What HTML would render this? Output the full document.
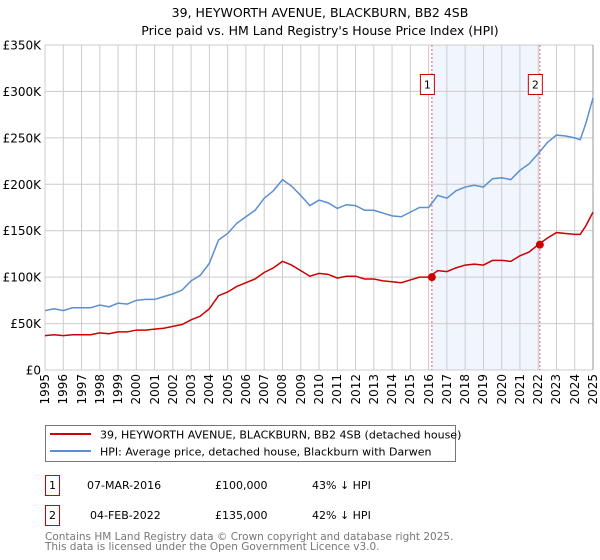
<!DOCTYPE html>
<html><head><meta charset="utf-8"><style>
body{margin:0;background:#fff;font-family:"DejaVu Sans","Liberation Sans",sans-serif;}
svg text{font-family:"DejaVu Sans","Liberation Sans",sans-serif;}
#wrap{position:relative;width:600px;height:560px;}
#c{position:absolute;left:0;top:0;}
.xl{position:absolute;top:374px;width:14px;line-height:14px;font-size:12px;writing-mode:vertical-rl;transform:rotate(180deg);white-space:nowrap;color:#000;}
</style></head><body>
<div id="wrap">
<svg id="c" width="600" height="560" xmlns="http://www.w3.org/2000/svg">
<text x="320" y="17" text-anchor="middle" font-size="12.5">39, HEYWORTH AVENUE, BLACKBURN, BB2 4SB</text>
<text x="320" y="35" text-anchor="middle" font-size="12.5">Price paid vs. HM Land Registry's House Price Index (HPI)</text>
<g id="plot"></g>
<rect x="45.5" y="425.5" width="410" height="36" fill="#fff" stroke="#777"/>
<line x1="50" y1="434" x2="91" y2="434" stroke="#cc0000" stroke-width="2"/>
<text x="100" y="438.5" font-size="11">39, HEYWORTH AVENUE, BLACKBURN, BB2 4SB (detached house)</text>
<line x1="50" y1="451" x2="91" y2="451" stroke="#5b8fd0" stroke-width="2"/>
<text x="100" y="455.5" font-size="11">HPI: Average price, detached house, Blackburn with Darwen</text>
<g font-size="11">
<rect x="45.5" y="475.5" width="14" height="20" fill="none" stroke="#cc0000"/>
<text x="52.5" y="489" text-anchor="middle">1</text>
<text x="87" y="489">07-MAR-2016</text>
<text x="215" y="489">£100,000</text>
<text x="312" y="489">43% ↓ HPI</text>
<rect x="45.5" y="505.5" width="14" height="20" fill="none" stroke="#cc0000"/>
<text x="52.5" y="519" text-anchor="middle">2</text>
<text x="90" y="519">04-FEB-2022</text>
<text x="215" y="519">£135,000</text>
<text x="312" y="519">42% ↓ HPI</text>
</g>
<text x="45" y="540" font-size="10.5" fill="#777">Contains HM Land Registry data © Crown copyright and database right 2025.</text>
<text x="45" y="550" font-size="10.5" fill="#777">This data is licensed under the Open Government Licence v3.0.</text>
</svg>
</div>
<script>
const hpiDates=[1995,1995.5,1996,1996.5,1997,1997.5,1998,1998.5,1999,1999.5,2000,2000.5,2001,2001.5,2002,2002.5,2003,2003.5,2004,2004.5,2005,2005.5,2006,2006.5,2007,2007.5,2008,2008.5,2009,2009.5,2010,2010.5,2011,2011.5,2012,2012.5,2013,2013.5,2014,2014.5,2015,2015.5,2016,2016.5,2017,2017.5,2018,2018.5,2019,2019.5,2020,2020.5,2021,2021.5,2022,2022.5,2023,2023.5,2024,2024.3,2024.6,2025];
const hpiValues=[64,66,64,67,67,67,70,68,72,71,75,76,76,79,82,86,96,102,115,140,147,158,165,172,185,193,205,198,188,177,183,180,174,178,177,172,172,169,166,165,170,175,175,188,185,193,197,199,197,206,207,205,215,222,233,245,253,252,250,248,265,293];
const priceValues=[37,38,37,38,38,38,40,39,41,41,43,43,44,45,47,49,54,58,66,80,84,90,94,98,105,110,117,113,107,101,104,103,99,101,101,98,98,96,95,94,97,100,100,107,106,110,113,114,113,118,118,117,123,127,135,142,148,147,146,146,155,170];
const sales=[{d:2016.18,v:100},{d:2022.09,v:135}];
const yTicks=[0,50,100,150,200,250,300,350];
const yTickLabels=["£0","£50K","£100K","£150K","£200K","£250K","£300K","£350K"];
const xYears=[1995,1996,1997,1998,1999,2000,2001,2002,2003,2004,2005,2006,2007,2008,2009,2010,2011,2012,2013,2014,2015,2016,2017,2018,2019,2020,2021,2022,2023,2024,2025];

const L=45,R=593,T=45,B=370;
const xs=d=>L+(d-1995)/30*(R-L);
const ys=v=>B-v/350*(B-T);
const NS="http://www.w3.org/2000/svg";
const g=document.getElementById('plot');
const wrapDiv=document.getElementById('wrap');
function mk(tag,attrs){const e=document.createElementNS(NS,tag);for(const k in attrs)e.setAttribute(k,attrs[k]);g.appendChild(e);return e;}

const shade=mk('rect',{x:xs(sales[0].d),y:T,width:xs(sales[1].d)-xs(sales[0].d),height:B-T,fill:'#eef3fc',opacity:0.8});



yTicks.forEach((t,i)=>{
  const ln=mk('line',{x1:L,x2:R,y1:ys(t),y2:ys(t),stroke:'#ccc','stroke-width':1});
  
  
  const tx=mk('text',{x:L-4,y:ys(t)+4.5,'text-anchor':'end','font-size':12});
  tx.textContent=yTickLabels[i];
  
  
});
xYears.forEach(yr=>{
  const ln=mk('line',{x1:xs(yr),x2:xs(yr),y1:T,y2:B,stroke:'#ccc','stroke-width':1});
  
  
  const d=document.createElement('div');
  d.className='xl';
  d.style.left=(xs(yr)-7)+'px';
  d.textContent=yr;
  
  
  wrapDiv.appendChild(d);
});
const fr=mk('line',{x1:R,x2:R,y1:T,y2:B,stroke:'#999','stroke-width':1});



sales.forEach((s,i)=>{
  const ln=mk('line',{x1:xs(s.d),x2:xs(s.d),y1:T,y2:B,stroke:'#e06060','stroke-width':1,'stroke-dasharray':'2,2'});
  
  
  const bx=mk('rect',{x:xs(s.d)-11.5,y:74.5,width:14,height:20,fill:'#fff',stroke:'#cc0000'});
  
  
  const tx=mk('text',{x:xs(s.d)-4.5,y:88.5,'text-anchor':'middle','font-size':11});
  tx.textContent=String(i+1);
  
  
});

const hp=mk('polyline',{points:hpiDates.map((d,i)=>xs(d)+','+ys(hpiValues[i])).join(' '),fill:'none',stroke:'#5b8fd0','stroke-width':1.5});


const pp=mk('polyline',{points:hpiDates.map((d,i)=>xs(d)+','+ys(priceValues[i])).join(' '),fill:'none',stroke:'#cc0000','stroke-width':1.5});


sales.forEach(s=>{
  const c=mk('circle',{cx:xs(s.d),cy:ys(s.v),r:4,fill:'#cc0000'});
  
  
});
</script>
</body></html>
